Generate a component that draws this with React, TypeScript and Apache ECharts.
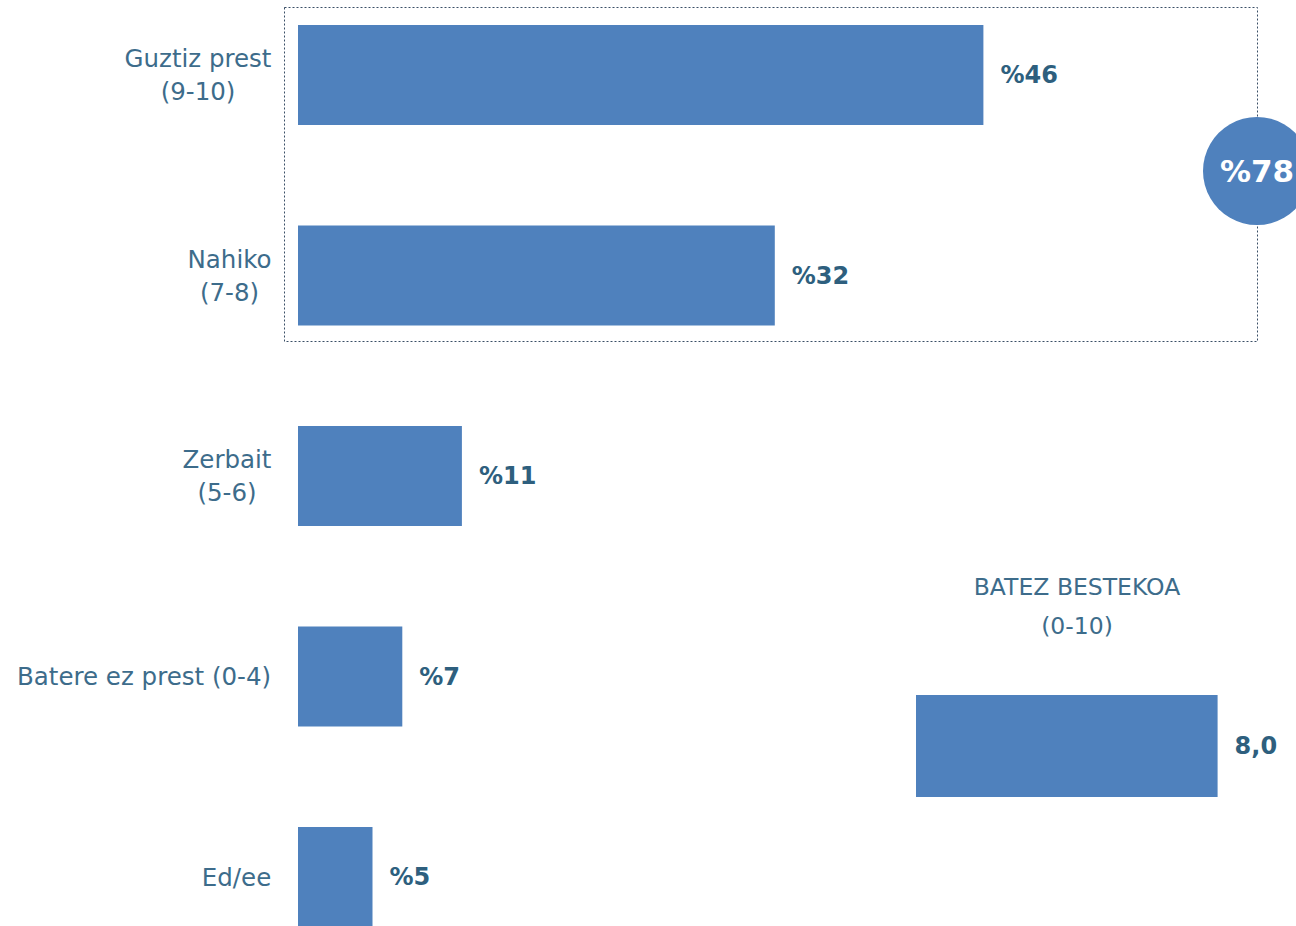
import React, { useEffect, useRef } from "react";
import * as echarts from "echarts";

const categories = ["Guztiz prest\n(9-10)", "Nahiko\n(7-8)", "Zerbait\n(5-6)", "Batere ez prest (0-4)", "Ed/ee"];
const values = [46, 32, 11, 7, 5];
const meanCategories = ["BATEZ BESTEKOA (0-10)"];
const meanValues = [8.0];
const topTotal = 78;

const BAR = "#4F81BD";
const VALUE_COLOR = "#2E5F7E";
const CAT_COLOR = "#3D6C8B";
const FONT = "DejaVu Sans";
const CAT_SIZE = 24.5;

function measure(text: string, font: string): number {
  const c = document.createElement("canvas").getContext("2d");
  if (!c) return text.length * 12;
  c.font = font;
  return c.measureText(text).width;
}

export default function App() {
  const ref = useRef<HTMLDivElement>(null);
  useEffect(() => {
    if (!ref.current) return;
    const chart = echarts.init(ref.current, null, { renderer: "svg" });
    const rich: Record<string, any> = {};
    categories.forEach((cat, i) => {
      const lines = cat.split("\n");
      const w = Math.ceil(Math.max(...lines.map((l) => measure(l, `${CAT_SIZE}px "${FONT}"`)))) + 1;
      rich["l" + i] = {
        width: w,
        align: "center",
        color: CAT_COLOR,
        fontFamily: FONT,
        fontSize: CAT_SIZE,
        lineHeight: 33,
      };
    });
    chart.setOption({
      animation: false,
      backgroundColor: "#ffffff",
      grid: [
        { left: 298, top: 75, width: 894, height: 802 },
        { left: 916, top: 695, width: 377, height: 102 },
      ],
      xAxis: [
        { type: "value", gridIndex: 0, min: 0, max: 60, show: false },
        { type: "value", gridIndex: 1, min: 0, max: 10, show: false },
      ],
      yAxis: [
        {
          type: "category",
          gridIndex: 0,
          data: categories,
          inverse: true,
          boundaryGap: false,
          axisLine: { show: false },
          axisTick: { show: false },
          splitLine: { show: false },
          axisLabel: {
            margin: 26,
            color: CAT_COLOR,
            fontFamily: FONT,
            fontSize: CAT_SIZE,
            lineHeight: 33,
            align: "right",
            formatter: (v: string, i: number) =>
              v
                .split("\n")
                .map((l) => `{l${i}|${l}}`)
                .join("\n"),
            rich,
          },
        },
        {
          type: "category",
          gridIndex: 1,
          data: meanCategories,
          show: false,
        },
      ],
      series: [
        {
          type: "bar",
          xAxisIndex: 0,
          yAxisIndex: 0,
          data: values,
          barWidth: 100,
          itemStyle: { color: BAR },
          label: {
            show: true,
            position: "right",
            distance: 17,
            formatter: (p: any) => "%" + p.value,
            color: VALUE_COLOR,
            fontFamily: FONT,
            fontWeight: "bold",
            fontSize: 24,
          },
        },
        {
          type: "bar",
          xAxisIndex: 1,
          yAxisIndex: 1,
          data: meanValues,
          barWidth: 102,
          itemStyle: { color: BAR },
          label: {
            show: true,
            position: "right",
            distance: 17,
            formatter: (p: any) => Number(p.value).toFixed(1).replace(".", ","),
            color: VALUE_COLOR,
            fontFamily: FONT,
            fontWeight: "bold",
            fontSize: 24,
          },
        },
      ],
      graphic: [
        {
          type: "rect",
          shape: { x: 284.5, y: 7.5, width: 973, height: 334 },
          style: { fill: "none", stroke: "#3A4F66", lineWidth: 1, lineDash: [2, 2] },
          z: 1,
        },
        {
          type: "text",
          style: {
            x: 1077,
            y: 606.5,
            text: "BATEZ BESTEKOA\n(0-10)",
            fill: CAT_COLOR,
            font: `23.5px ${FONT}`,
            lineHeight: 39,
            align: "center",
            verticalAlign: "middle",
          },
        },
        {
          type: "circle",
          shape: { cx: 1257, cy: 171, r: 54 },
          style: { fill: BAR },
          z: 10,
        },
        {
          type: "text",
          style: {
            x: 1257,
            y: 171,
            text: "%" + topTotal,
            fill: "#ffffff",
            font: `bold 31px ${FONT}`,
            align: "center",
            verticalAlign: "middle",
          },
          z: 11,
        },
      ],
    });
    return () => chart.dispose();
  }, []);
  return <div ref={ref} style={{ position: "fixed", left: 0, top: 0, width: 1296, height: 926 }} />;
}
